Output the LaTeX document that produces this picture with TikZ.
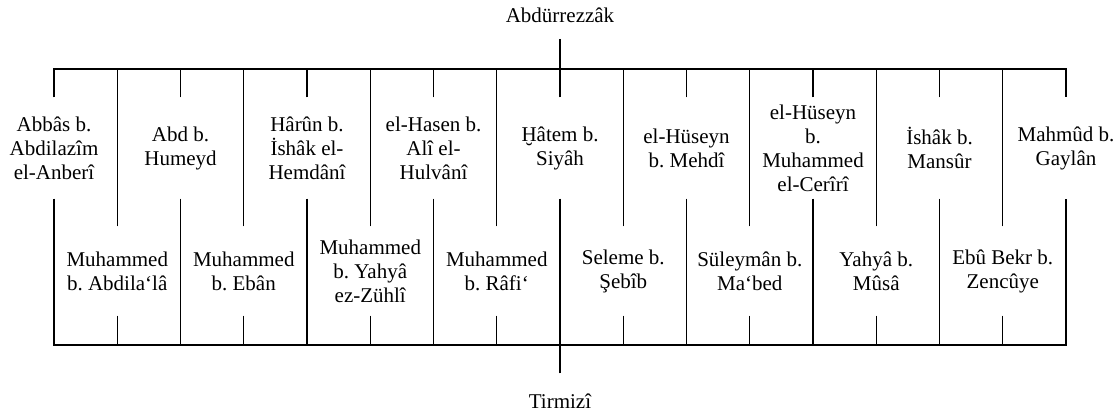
\documentclass[tikz,border=0pt]{standalone}
\usepackage{fontspec}
\setmainfont{Liberation Serif}
\usetikzlibrary{positioning}

\begin{document}
\begin{tikzpicture}[x=0.5pt,y=-0.5pt,node distance=63.25pt,line width=0.65pt]
  \tikzstyle{every node}=[font=\fontsize{10.5}{12}\selectfont\frenchspacing,align=center,inner sep=0pt]
  \tikzstyle{upper}=[minimum height=50pt]
  \tikzstyle{lower}=[minimum height=44pt]
  \useasboundingbox (0,0) rectangle (1118,414);

  \coordinate (top)    at (0,69);
  \coordinate (bottom) at (0,345);

  \node[anchor=base,inner ysep=8pt]                 (abd) at (560,22)  {Abdürrezzâk};
  \node[anchor=base,text height=7pt,inner ysep=10pt] (tir) at (560,408) {Tirmizî};

  % upper row
  \node[upper] (u_1) at (54,148)  {Abbâs b.\\Abdilazîm\\el-Anberî};
  \node[upper] (u_2) [right of=u_1] {Abd b.\\Humeyd};
  \node[upper] (u_3) [right of=u_2] {Hârûn b.\\İshâk el-\\Hemdânî};
  \node[upper] (u_4) [right of=u_3] {el-Hasen b.\\Alî el-\\Hulvânî};
  \node[upper] (u_5) [right of=u_4] {Ḫâtem b.\\Siyâh};
  \node[upper] (u_6) [right of=u_5] {el-Hüseyn\\b. Mehdî};
  \node[upper] (u_7) [right of=u_6] {el-Hüseyn\\b.\\Muhammed\\el-Cerîrî};
  \node[upper] (u_8) [right of=u_7] {İshâk b.\\Mansûr};
  \node[upper] (u_9) [right of=u_8] {Mahmûd b.\\Gaylân};

  % lower row
  \node[lower] (l_1) at (117.25,271) {Muhammed\\b. Abdila‘lâ};
  \node[lower] (l_2) [right of=l_1] {Muhammed\\b. Ebân};
  \node[lower] (l_3) [right of=l_2] {Muhammed\\b. Yahyâ\\ez-Zühlî};
  \node[lower] (l_4) [right of=l_3] {Muhammed\\b. Râfi‘};
  \node[lower] (l_5) [right of=l_4] {Seleme b.\\Şebîb};
  \node[lower] (l_6) [right of=l_5] {Süleymân b.\\Ma‘bed};
  \node[lower] (l_7) [right of=l_6] {Yahyâ b.\\Mûsâ};
  \node[lower] (l_8) [right of=l_7] {Ebû Bekr b.\\Zencûye};

  % bars
  \draw (u_1.north) |- (u_9.north |- top) -- (u_9.north);
  \draw (u_1.south) |- (u_9.south |- bottom) -- (u_9.south);
  \draw (abd) -- (abd |- top);
  \draw (tir) -- (tir |- bottom);

  % upper row stubs
  \draw (u_2.north) -- (u_2.north |- top) (u_2.south) -- (u_2.south |- bottom)
        (u_3.north) -- (u_3.north |- top) (u_3.south) -- (u_3.south |- bottom)
        (u_4.north) -- (u_4.north |- top) (u_4.south) -- (u_4.south |- bottom)
        (u_5.north) -- (u_5.north |- top) (u_5.south) -- (u_5.south |- bottom)
        (u_6.north) -- (u_6.north |- top) (u_6.south) -- (u_6.south |- bottom)
        (u_7.north) -- (u_7.north |- top) (u_7.south) -- (u_7.south |- bottom)
        (u_8.north) -- (u_8.north |- top) (u_8.south) -- (u_8.south |- bottom);

  % lower row lines
  \draw (l_1.north) -- (l_1.north |- top) (l_1.south) -- (l_1.south |- bottom)
        (l_2.north) -- (l_2.north |- top) (l_2.south) -- (l_2.south |- bottom)
        (l_3.north) -- (l_3.north |- top) (l_3.south) -- (l_3.south |- bottom)
        (l_4.north) -- (l_4.north |- top) (l_4.south) -- (l_4.south |- bottom)
        (l_5.north) -- (l_5.north |- top) (l_5.south) -- (l_5.south |- bottom)
        (l_6.north) -- (l_6.north |- top) (l_6.south) -- (l_6.south |- bottom)
        (l_7.north) -- (l_7.north |- top) (l_7.south) -- (l_7.south |- bottom)
        (l_8.north) -- (l_8.north |- top) (l_8.south) -- (l_8.south |- bottom);
\end{tikzpicture}
\end{document}
